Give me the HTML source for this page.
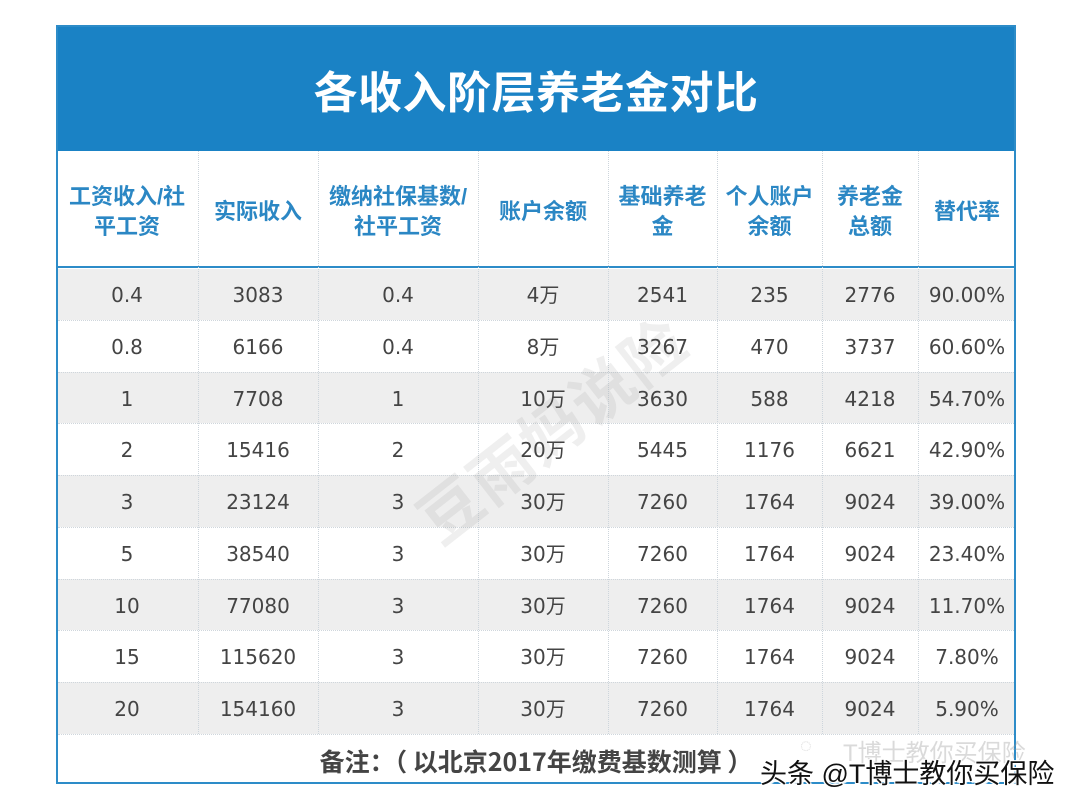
<!DOCTYPE html>
<html><head><meta charset="utf-8">
<style>
*{margin:0;padding:0;box-sizing:border-box;}
body{width:1080px;height:810px;background:#fff;position:relative;overflow:hidden;font-family:"Liberation Sans","Noto Sans CJK SC",sans-serif;}
.abs{position:absolute;}
#tbl{left:56px;top:25px;width:960px;height:759px;border:2px solid #2d8cc8;}
#head{left:56px;top:25px;width:960px;height:126px;background:#1a82c5;}
#title{left:56px;top:30px;width:960px;height:126px;line-height:128px;text-align:center;color:#fff;font-size:44px;font-weight:bold;letter-spacing:0.5px;}
.row{position:absolute;left:58px;width:956px;}
.g{background:#eeeeee;}
.hsep{position:absolute;left:58px;width:956px;height:0;border-top:1px dotted #cfd6dc;}
.vsep{position:absolute;width:0;border-left:1px dotted #cdd5dc;top:151px;height:583px;}
.hc{position:absolute;top:154px;height:116px;display:flex;align-items:center;justify-content:center;text-align:center;color:#2b87c4;font-weight:bold;font-size:22px;line-height:30px;}
.dc{position:absolute;height:52px;line-height:55px;text-align:center;color:#444;font-size:20px;font-family:"DejaVu Sans","Noto Sans CJK SC",sans-serif;}
</style></head><body>
<div class="abs" id="head"></div>
<div class="abs" id="title">各收入阶层养老金对比</div>

<!-- row backgrounds -->
<div class="row g" style="top:269px;height:51px;"></div>
<div class="row g" style="top:372px;height:51px;"></div>
<div class="row g" style="top:475px;height:52px;"></div>
<div class="row g" style="top:579px;height:51px;"></div>
<div class="row g" style="top:682px;height:52px;"></div>

<!-- header bottom blue line -->
<div class="abs" style="left:56px;top:266px;width:960px;height:2px;background:#2d8cc8;"></div>

<!-- horizontal dotted separators -->
<div class="hsep" style="top:320px"></div>
<div class="hsep" style="top:372px"></div>
<div class="hsep" style="top:423px"></div>
<div class="hsep" style="top:475px"></div>
<div class="hsep" style="top:527px"></div>
<div class="hsep" style="top:579px"></div>
<div class="hsep" style="top:630px"></div>
<div class="hsep" style="top:682px"></div>
<div class="hsep" style="top:734px"></div>

<!-- vertical dotted separators -->
<div class="vsep" style="left:198px"></div>
<div class="vsep" style="left:318px"></div>
<div class="vsep" style="left:478px"></div>
<div class="vsep" style="left:608px"></div>
<div class="vsep" style="left:717px"></div>
<div class="vsep" style="left:822px"></div>
<div class="vsep" style="left:918px"></div>

<!-- header cells -->
<div class="hc" style="left:56px;width:142px;">工资收入/社<br>平工资</div>
<div class="hc" style="left:198px;width:120px;">实际收入</div>
<div class="hc" style="left:318px;width:160px;">缴纳社保基数/<br>社平工资</div>
<div class="hc" style="left:478px;width:130px;">账户余额</div>
<div class="hc" style="left:608px;width:109px;">基础养老<br>金</div>
<div class="hc" style="left:717px;width:105px;">个人账户<br>余额</div>
<div class="hc" style="left:822px;width:96px;">养老金<br>总额</div>
<div class="hc" style="left:918px;width:98px;">替代率</div>

<!-- watermark -->
<div class="abs" style="left:380px;top:382px;width:340px;text-align:center;font-size:62px;color:rgba(120,120,120,0.12);transform:rotate(-38deg);font-weight:bold;letter-spacing:2px;">豆雨妈说险</div>

<div id="data"></div>
<script>
var cols=[[56,142],[198,120],[318,160],[478,130],[608,109],[717,105],[822,96],[918,98]];
var rows=[
["0.4","3083","0.4","4万","2541","235","2776","90.00%"],
["0.8","6166","0.4","8万","3267","470","3737","60.60%"],
["1","7708","1","10万","3630","588","4218","54.70%"],
["2","15416","2","20万","5445","1176","6621","42.90%"],
["3","23124","3","30万","7260","1764","9024","39.00%"],
["5","38540","3","30万","7260","1764","9024","23.40%"],
["10","77080","3","30万","7260","1764","9024","11.70%"],
["15","115620","3","30万","7260","1764","9024","7.80%"],
["20","154160","3","30万","7260","1764","9024","5.90%"]];
var tops=[268,320,372,423,475,527,579,630,682];
var h="";
for(var r=0;r<rows.length;r++){for(var c=0;c<8;c++){h+='<div class="dc" style="left:'+cols[c][0]+'px;width:'+cols[c][1]+'px;top:'+tops[r]+'px;">'+rows[r][c]+'</div>';}}
document.getElementById("data").innerHTML=h;
</script>

<!-- footer -->
<div class="abs" style="left:56px;top:736px;width:960px;height:48px;line-height:50px;text-align:center;font-size:25px;font-weight:bold;color:#444;font-family:'Noto Sans CJK SC',sans-serif;">备注：（ 以北京2017年缴费基数测算 ）</div>

<!-- table border -->
<div class="abs" id="tbl"></div>

<!-- bottom-right watermark -->
<div class="abs" style="left:800px;top:735px;font-size:20px;color:rgba(150,150,150,0.35);white-space:nowrap;">◌</div>
<div class="abs" style="left:843px;top:733px;font-size:24px;color:rgba(150,150,150,0.35);white-space:nowrap;">T博士教你买保险</div>
<div class="abs" style="left:760px;top:752px;font-size:27px;color:#111;white-space:nowrap;text-shadow:1px 1px 0 #fff,-1px -1px 0 #fff,1px -1px 0 #fff,-1px 1px 0 #fff,2px 2px 1px #fff;">头条 @T博士教你买保险</div>
</body></html>
